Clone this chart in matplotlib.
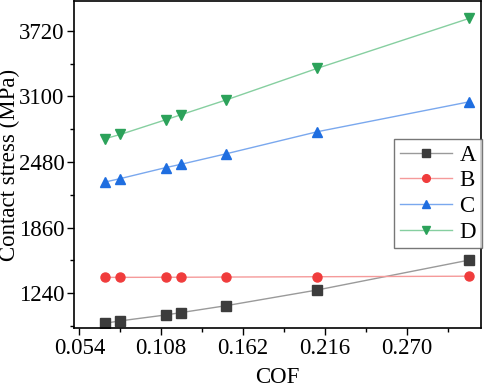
import matplotlib
matplotlib.use("Agg")
import matplotlib.pyplot as plt
from matplotlib.ticker import MultipleLocator

cof = [0.071, 0.081, 0.111, 0.121, 0.151, 0.211, 0.311]
stress_a = [957, 979, 1035, 1057, 1123, 1271, 1553]
stress_b = [1390, 1390, 1391, 1391, 1393, 1396, 1401]
stress_c = [2291, 2323, 2427, 2458, 2558, 2766, 3048]
stress_d = [2700, 2740, 2879, 2926, 3067, 3365, 3836]
labels = ["A", "B", "C", "D"]

plt.rcParams["font.family"] = ["Liberation Serif", "DejaVu Serif"]

fig = plt.figure(figsize=(4.84, 3.87), dpi=100)
ax = fig.add_axes([0.153, 0.152, 0.841, 0.846])

series = [stress_a, stress_b, stress_c, stress_d]
markers = ["s", "o", "^", "v"]
mcolors = ["#3c3c3c", "#f03c3c", "#1f6ee0", "#2ca25a"]
lcolors = ["#9a9a9a", "#f59a9a", "#7aa8ee", "#86cfa0"]
for ys, m, mc, lc, lab in zip(series, markers, mcolors, lcolors, labels):
    ax.plot(cof, ys, color=lc, lw=1.0, marker=m, markersize=6.5,
            markerfacecolor=mc, markeredgecolor=mc, label=lab)

ax.set_xlim(0.0505, 0.319)
ax.set_ylim(910, 4003)
ax.xaxis.set_minor_locator(MultipleLocator(0.027))
ax.yaxis.set_minor_locator(MultipleLocator(310))
ax.set_xticks([0.054, 0.108, 0.162, 0.216, 0.270])
ax.set_xticklabels(["0.054", "0.108", "0.162", "0.216", "0.270"])
ax.set_yticks([1240, 1860, 2480, 3100, 3720])
ax.tick_params(which="major", direction="out", length=5, width=1, labelsize=16.5, pad=2)
ax.tick_params(which="minor", direction="out", length=3, width=1)
for s in ax.spines.values():
    s.set_linewidth(1.2)

ax.set_xlabel("COF", fontsize=16.5, labelpad=6)
ax.set_ylabel("Contact stress (MPa)", fontsize=16.5)
ax.yaxis.set_label_coords(-0.132, 0.5)

leg = ax.legend(loc="upper left", fontsize=16.5,
                frameon=True, fancybox=False, edgecolor="#555555",
                handlelength=2.3, labelspacing=0.2, borderpad=0.25, handletextpad=0.3,
                borderaxespad=0, markerscale=0.85)
leg.set_bbox_to_anchor((394 / 484, 1 - 139 / 387), transform=fig.transFigure)
leg.get_frame().set_linewidth(1.0)

fig.savefig("out.png", dpi=100)
